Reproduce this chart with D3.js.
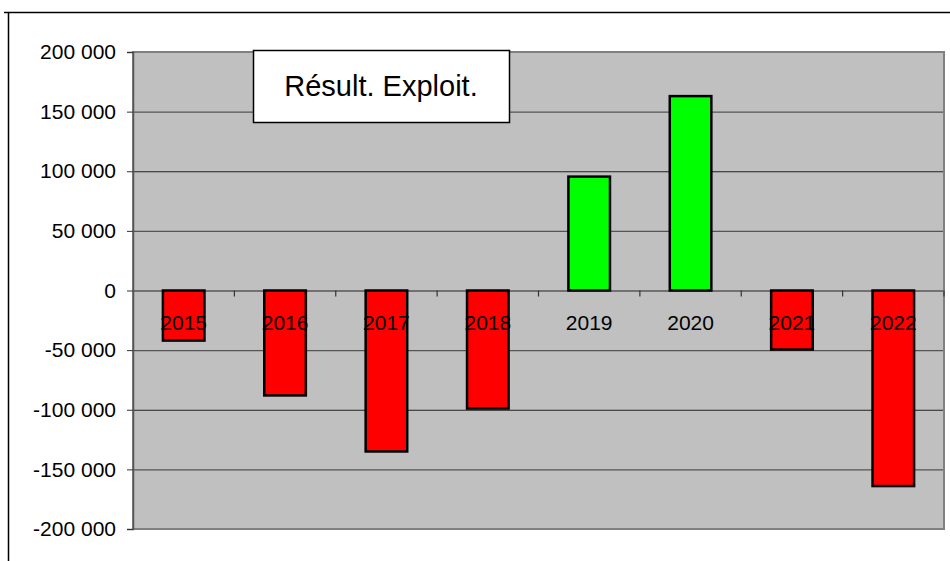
<!DOCTYPE html>
<html>
<head>
<meta charset="utf-8">
<script src="https://cdn.jsdelivr.net/npm/d3@7"></script>
<style>
    body { margin: 0; background: #fff; }
    svg { display: block; font-family: "Liberation Sans", Arial, sans-serif; }
</style>
</head>
<body>
<svg id="chart" width="950" height="561"></svg>
<script>
// chart data
var years = ['2015', '2016', '2017', '2018', '2019', '2020', '2021', '2022'];
var resultValues = [-42000, -88000, -135000, -99000, 95500, 163000, -49500, -164000];
var yTicks = [200000, 150000, 100000, 50000, 0, -50000, -100000, -150000, -200000];
var boxLabel = 'Résult. Exploit.';

var svg = d3.select('#chart');

var plot = { left: 133, top: 52, right: 944, bottom: 529 };

var x = d3.scaleBand()
    .domain(years)
    .range([plot.left, plot.right])
    .paddingInner(0.59)
    .paddingOuter(0.295);

var xBand = d3.scaleBand().domain(years).range([plot.left, plot.right]);

var y = d3.scaleLinear()
    .domain([-200000, 200000])
    .range([plot.bottom, plot.top]);

// thousands separated by a space, plain hyphen for negatives
var fmt = function (v) {
    var s = d3.format(',')(Math.abs(v)).replace(/,/g, ' ');
    return (v < 0 ? '-' : '') + s;
};

// outer frame
svg.append('line').attr('x1', 4).attr('x2', 950).attr('y1', 12.5).attr('y2', 12.5)
    .attr('stroke', '#000').attr('stroke-width', 1.5);
svg.append('line').attr('x1', 8.5).attr('x2', 8.5).attr('y1', 12).attr('y2', 561)
    .attr('stroke', '#000').attr('stroke-width', 1.5);

// plot background
svg.append('rect')
    .attr('x', plot.left).attr('y', plot.top)
    .attr('width', plot.right - plot.left).attr('height', plot.bottom - plot.top)
    .attr('fill', '#c0c0c0');

// gridlines
svg.append('g').selectAll('line')
    .data(yTicks)
    .enter().append('line')
        .attr('x1', plot.left).attr('x2', plot.right)
        .attr('y1', function (d) { return y(d) + 0.5; })
        .attr('y2', function (d) { return y(d) + 0.5; })
        .attr('stroke', function (d) { return d % 100000 === 0 ? '#222' : '#555'; })
        .attr('stroke-width', 1.2);

// plot border (dark gray)
svg.append('rect')
    .attr('x', plot.left).attr('y', plot.top)
    .attr('width', plot.right - plot.left).attr('height', plot.bottom - plot.top)
    .attr('fill', 'none').attr('stroke', '#808080').attr('stroke-width', 2);

// y axis
var yAxis = d3.axisLeft(y).tickValues(yTicks).tickSize(6).tickFormat(fmt);
var yg = svg.append('g').attr('transform', 'translate(' + plot.left + ',0)').call(yAxis);
yg.attr('font-size', null).attr('font-family', null);
yg.select('.domain').attr('stroke', '#555').attr('stroke-width', 1.5);
yg.selectAll('.tick line').attr('stroke', '#333');
yg.selectAll('.tick text')
    .attr('x', -17)
    .style('font-size', '21px')
    .attr('fill', '#000');

// bars
svg.append('g').selectAll('rect')
    .data(years)
    .enter().append('rect')
        .attr('x', function (d) { return x(d); })
        .attr('width', x.bandwidth())
        .attr('y', function (d, i) { return y(Math.max(0, resultValues[i])); })
        .attr('height', function (d, i) { return Math.abs(y(resultValues[i]) - y(0)); })
        .attr('fill', function (d, i) { return resultValues[i] < 0 ? '#ff0000' : '#00ff00'; })
        .attr('stroke', '#000')
        .attr('stroke-width', 2.5);

// category separators on the zero line
svg.append('g').selectAll('line')
    .data(years)
    .enter().append('line')
        .attr('x1', function (d) { return xBand(d) + xBand.bandwidth(); })
        .attr('x2', function (d) { return xBand(d) + xBand.bandwidth(); })
        .attr('y1', y(0)).attr('y2', y(0) + 6)
        .attr('stroke', '#333').attr('stroke-width', 1.2);

// year labels
svg.append('g').selectAll('text')
    .data(years)
    .enter().append('text')
        .attr('x', function (d) { return xBand(d) + xBand.bandwidth() / 2; })
        .attr('y', y(0) + 39)
        .attr('text-anchor', 'middle')
        .style('font-size', '21px')
        .attr('fill', '#000')
        .text(function (d) { return d; });

// label box
var box = svg.append('g').attr('transform', 'translate(253,50)');
box.append('rect')
    .attr('x', 0.5).attr('y', 0.5).attr('width', 256).attr('height', 72)
    .attr('fill', '#fff').attr('stroke', '#000').attr('stroke-width', 1.5);
box.append('text')
    .attr('x', 128).attr('y', 46)
    .attr('text-anchor', 'middle')
    .style('font-size', '29px')
    .attr('fill', '#000')
    .text(boxLabel);
</script>
</body>
</html>
